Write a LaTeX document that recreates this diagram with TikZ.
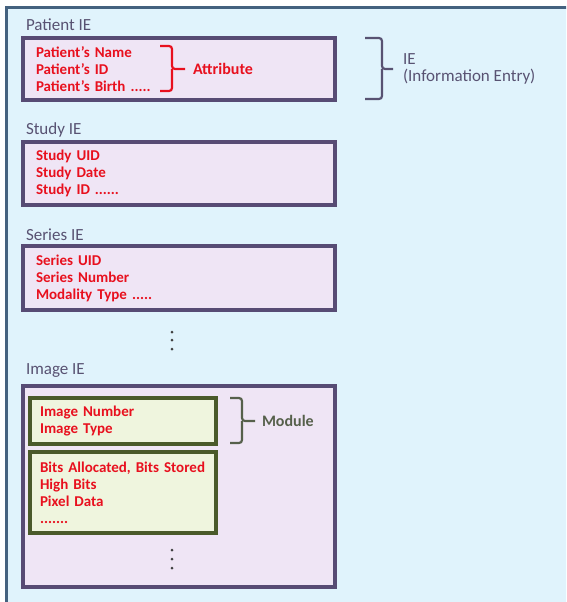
\documentclass[tikz,border=0pt]{standalone}
\usepackage{fontspec}
\setmainfont{Carlito}
\usetikzlibrary{positioning}
\definecolor{bgblue}{HTML}{E0F3FC}
\definecolor{framecol}{HTML}{44627F}
\definecolor{iefill}{HTML}{EFE5F5}
\definecolor{ieline}{HTML}{574B74}
\definecolor{modfill}{HTML}{EFF5DE}
\definecolor{modline}{HTML}{4A5A2A}
\definecolor{attrred}{HTML}{E8101E}
\definecolor{labelgray}{HTML}{585272}
\definecolor{modgray}{HTML}{56604B}
\begin{document}
\begin{tikzpicture}[x=1pt,y=-1pt,inner sep=0pt,outer sep=0pt,
iebox/.style={draw=ieline,fill=iefill,line width=3.2pt,rectangle,anchor=north west,minimum width=312pt,
  text width=286pt,align=left,inner xsep=13pt,font=\fontsize{15}{17}\selectfont\bfseries,text=attrred},
modbox/.style={draw=modline,fill=modfill,line width=3.6pt,rectangle,anchor=north west,minimum width=186pt,
  text width=166pt,align=left,inner xsep=10pt,font=\fontsize{15}{17}\selectfont\bfseries,text=attrred},
ielabel/.style={anchor=west,text=labelgray,font=\fontsize{17}{18}\selectfont},
brace/.style={line width=2.2pt,rounded corners=3pt},
dot/.style={circle,fill=black!75,minimum size=3pt}]
\clip (0,0) rectangle (566,602);
\fill[white] (0,0) rectangle (566,602);
\draw[framecol,line width=3pt,fill=bgblue] (6,8) rectangle (590,630);
\draw (26,25) node[ielabel] (patlab) {Patient IE};
\draw (23,38) node[iebox,minimum height=62pt] (patient) {Patient's Name\\Patient's ID\\Patient's Birth .....};
\draw (26,130) node[ielabel] (stulab) {Study IE};
\draw (23,142) node[iebox,minimum height=63pt] (study) {Study UID\\Study Date\\Study ID ......};
\draw (26,235) node[ielabel] (serlab) {Series IE};
\draw (23,246) node[iebox,minimum height=64pt] (series) {Series UID\\Series Number\\Modality Type .....};
\draw (26,371) node[ielabel] (imglab) {Image IE};
\draw (23,386) node[iebox,minimum height=201pt] (image) {};
\draw (30,398) node[modbox,minimum height=46pt] (mod1) {Image Number\\Image Type};
\draw (30,452) node[modbox,minimum height=81pt] (mod2) {Bits Allocated, Bits Stored\\High Bits\\Pixel Data\\.......};
\draw (193,69) node[anchor=west,text=attrred,font=\fontsize{16}{18}\selectfont\bfseries] (attr) {Attribute};
\draw (403,69) node[anchor=west,align=left,text=labelgray,font=\fontsize{17}{17}\selectfont] (ielab) {IE\\(Information Entry)};
\draw (262,421) node[anchor=west,text=modgray,font=\fontsize{16}{18}\selectfont\bfseries] (modlab) {Module};
\draw[brace,attrred] (160,46) -| (172,69) -- (185,69);
\draw[brace,attrred] (160,91) -| (172,69);
\draw[brace,labelgray] (365,38) -| (382,69) -- (393,69);
\draw[brace,labelgray] (365,99) -| (382,69);
\draw[brace,modgray] (230,398) -| (242,421) -- (255,421);
\draw[brace,modgray] (230,443) -| (242,421);
\foreach \y in {332,340,349} \node[dot] at (172,\y) {};
\foreach \y in {550,559,568} \node[dot] at (172,\y) {};
\end{tikzpicture}
\end{document}
